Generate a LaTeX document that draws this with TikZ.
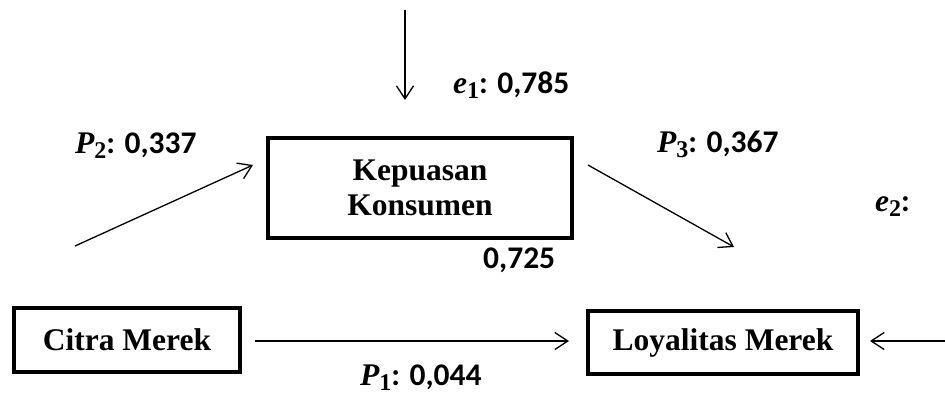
\documentclass[tikz,border=0pt]{standalone}
\usepackage{fontspec}
\setmainfont{Liberation Serif}
\newfontfamily\labfont{Carlito}
\usetikzlibrary{arrows.meta}
\newcommand{\varsym}[2]{{\rmfamily\bfseries\itshape #1}\raisebox{-0.18em}{\fontsize{24}{24}\selectfont\rmfamily\bfseries #2}}
\tikzset{
  box/.style={draw, line width=3.5pt, align=center, inner sep=0pt,
    font=\fontsize{31.5}{35}\selectfont\bfseries},
  conn/.style={line width=1.3pt, -{Straight Barb[length=13pt,width=17pt,line width=1.3pt]}},
  lab/.style={anchor=base west, inner sep=0pt, font=\fontsize{31.5}{35}\selectfont\labfont\bfseries}
}
\begin{document}
\begin{tikzpicture}[x=1pt,y=-1pt]
\useasboundingbox (0,0) rectangle (945,392);
\node[box, minimum width=304pt, minimum height=100pt] (kep) at (420,188) {Kepuasan\\Konsumen};
\node[box, minimum width=226pt, minimum height=64pt] (cit) at (127,340) {Citra Merek};
\node[box, minimum width=270pt, minimum height=63pt] (loy) at (723,342.5) {Loyalitas Merek};
\coordinate (e1s) at (405,10);
\coordinate (e1e) at (405,100);
\coordinate (p2s) at (75,246);
\coordinate (p2e) at (253,165);
\coordinate (p3s) at (588,165);
\coordinate (p3e) at (734,247);
\coordinate (e2s) at (947,341);
\coordinate (e2e) at (870,341);
\coordinate (p1s) at (255,341);
\coordinate (p1e) at (569,341);
\draw[conn] (e1s) -- (e1e);
\draw[conn] (p2s) -- (p2e);
\draw[conn] (p3s) -- (p3e);
\draw[conn] (e2s) -- (e2e);
\draw[conn] (p1s) -- (p1e);
\node[lab] (le1) at (453,93) {\varsym{e}{1}: 0,785};
\node[lab] (lp2) at (75,153) {\varsym{P}{2}: 0,337};
\node[lab] (lp3) at (657,152) {\varsym{P}{3}: 0,367};
\node[lab] (lr1) at (483,268) {0,725};
\node[lab] (le2) at (875,211) {\varsym{e}{2}:};
\node[lab] (lp1) at (360,385) {\varsym{P}{1}: 0,044};
\end{tikzpicture}
\end{document}
